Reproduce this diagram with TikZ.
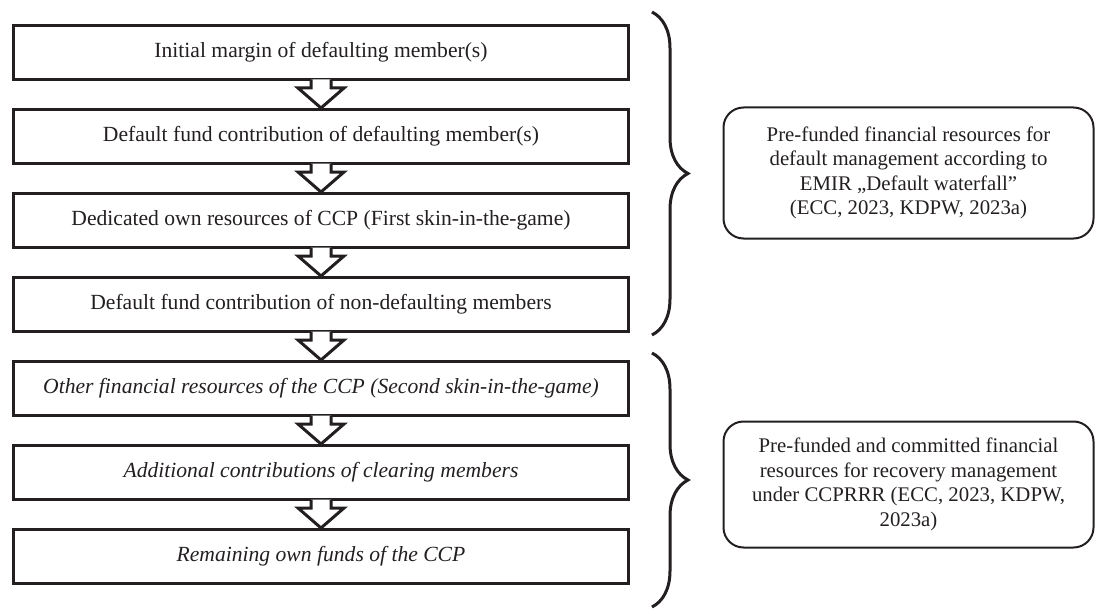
\documentclass[tikz,border=0pt]{standalone}
\usepackage{fontspec}
\setmainfont{Liberation Serif}
\usetikzlibrary{calc,decorations.pathreplacing}
\definecolor{ink}{HTML}{231F20}
\tikzset{
  stepbox/.style={draw=ink, line width=3pt, minimum width=615pt, minimum height=54pt, inner sep=0pt, font=\fontsize{21.6}{25}\selectfont, text=ink},
  itbox/.style={stepbox, font=\fontsize{21.6}{25}\selectfont\itshape},
  arrowline/.style={draw=ink, fill=white, line width=3pt, line join=miter},
  sidebox/.style={draw=ink, line width=2pt, rounded corners=20pt, minimum width=370pt, align=center, inner sep=0pt, font=\fontsize{20.8}{24.5}\selectfont, text=ink},
  bracestyle/.style={draw=ink, line width=3pt, decorate, decoration={brace, amplitude=36pt}}
}
\newcommand{\downarr}[2]{%
  \filldraw[arrowline] ($(#1.south)+(-10,-1.5)$) -- ($(#1.south)+(-10,7)$) -- ($(#1.south)+(-23,7)$) -- (#2.north) -- ($(#1.south)+(23,7)$) -- ($(#1.south)+(10,7)$) -- ($(#1.south)+(10,-1.5)$);}
\begin{document}
\begin{tikzpicture}[x=1pt,y=-1pt]
\useasboundingbox (0,0) rectangle (1096,610);
\node[stepbox] (b1) at (321,52.5) {Initial margin of defaulting member(s)};
\node[stepbox] (b2) at (321,136.5) {Default fund contribution of defaulting member(s)};
\node[stepbox] (b3) at (321,220.5) {Dedicated own resources of CCP (First skin-in-the-game)};
\node[stepbox] (b4) at (321,304.5) {Default fund contribution of non-defaulting members};
\node[itbox] (b5) at (321,388.5) {Other financial resources of the CCP (Second skin-in-the-game)};
\node[itbox] (b6) at (321,472.5) {Additional contributions of clearing members};
\node[itbox] (b7) at (321,556.5) {Remaining own funds of the CCP};
\downarr{b1}{b2}
\downarr{b2}{b3}
\downarr{b3}{b4}
\downarr{b4}{b5}
\downarr{b5}{b6}
\downarr{b6}{b7}
\coordinate (t1) at (652,12);
\coordinate (e1) at (652,335);
\coordinate (t2) at (652,353);
\coordinate (e2) at (652,607);
\draw[bracestyle] (t1) -- (e1);
\draw[bracestyle] (t2) -- (e2);
\node[sidebox, minimum height=131pt] (r1) at (908.5,173) {Pre-funded financial resources for\\ default management according to\\ EMIR „Default waterfall”\\ (ECC, 2023, KDPW, 2023a)};
\node[sidebox, minimum height=126pt] (r2) at (908.5,484.5) {Pre-funded and committed financial\\ resources for recovery management\\ under CCPRRR (ECC, 2023, KDPW,\\ 2023a)};
\end{tikzpicture}
\end{document}
